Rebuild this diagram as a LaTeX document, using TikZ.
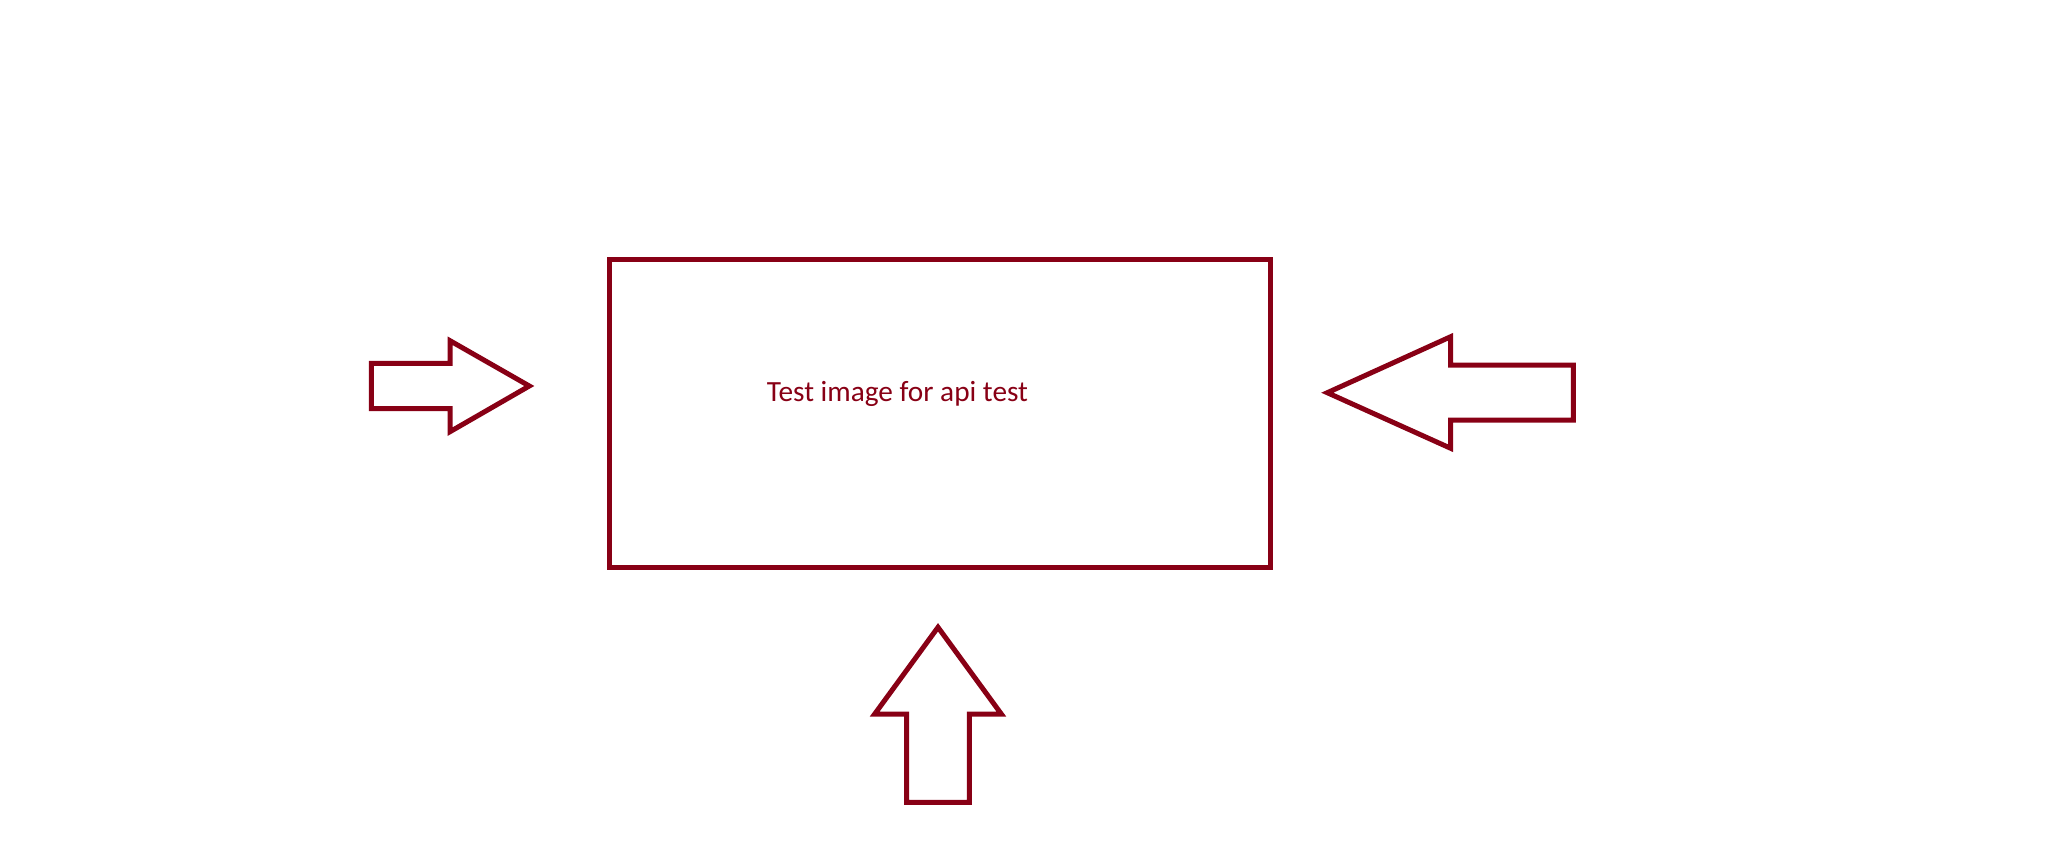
\documentclass[tikz,border=0pt]{standalone}
\usepackage{fontspec}
\setmainfont{Carlito}
\definecolor{pdred}{RGB}{136,0,21}
\begin{document}
\begin{tikzpicture}[x=1pt,y=-1pt,
  outl/.style={draw=pdred,line width=5pt,line join=miter},
  lbl/.style={text=pdred,font=\fontsize{29.3}{35}\selectfont,inner sep=0pt,anchor=base west}]
\useasboundingbox (0,0) rectangle (2064,864);
% main box
\draw[outl] (609.5,259.5) rectangle (1270.5,567.5);
\node[lbl] (t) at (766.7,401) {Test image for api test};
% left arrow (pointing right)
\draw[outl] (371.3,363.3) -- (450,363.3) -- (450,340.7) -- (529.3,386) -- (450,431.7) -- (450,408.7) -- (371.3,408.7) -- cycle;
% right arrow (pointing left)
\draw[outl] (1573.3,365) -- (1450.7,365) -- (1450.7,336.7) -- (1327.3,392.7) -- (1450.7,448.3) -- (1450.7,420) -- (1573.3,420) -- cycle;
% bottom arrow (pointing up)
\draw[outl] (906.7,802.3) -- (906.7,714) -- (874.7,714) -- (938,627.3) -- (1001.3,714) -- (969.3,714) -- (969.3,802.3) -- cycle;
\end{tikzpicture}
\end{document}
